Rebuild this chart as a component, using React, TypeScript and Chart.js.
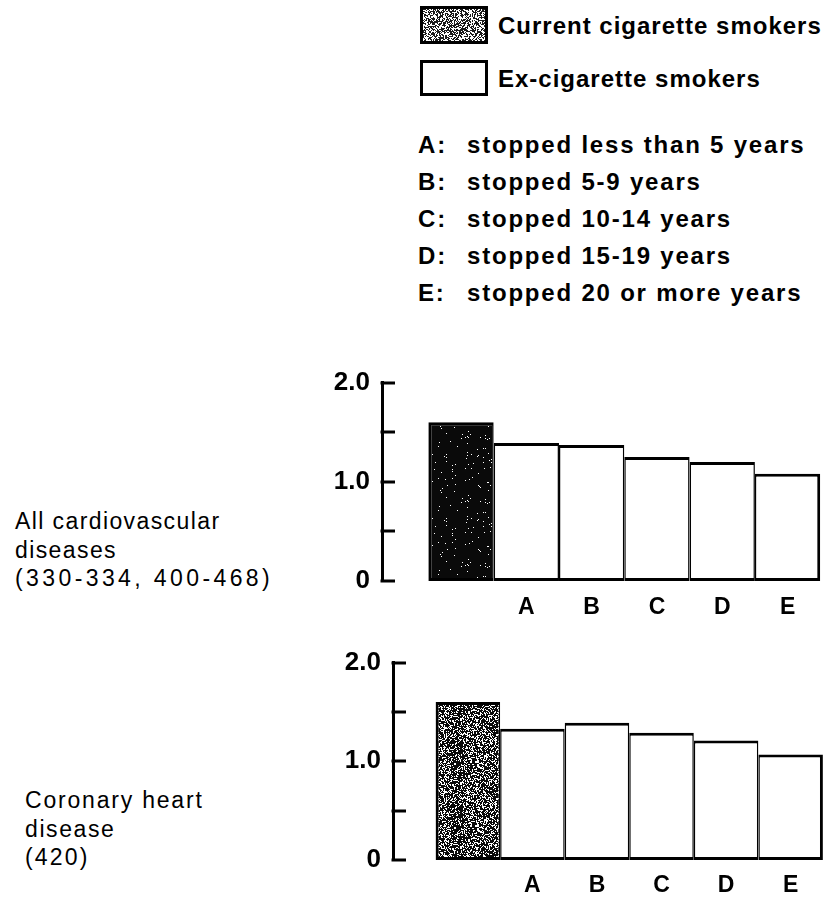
import React, { useEffect, useRef } from "react";
import { Chart, registerables } from "chart.js";

Chart.register(...registerables);

// ---- data ----
const CATEGORIES = ["", "A", "B", "C", "D", "E"];
const CVD_VALUES = [1.6, 1.39, 1.37, 1.25, 1.2, 1.08];
const CHD_VALUES = [1.6, 1.33, 1.39, 1.29, 1.21, 1.07];
const Y_TICKS = [0, 0.5, 1.0, 1.5, 2.0];
const Y_LABELS = ["0", "", "1.0", "", "2.0"];
const LEGEND_ITEMS = ["Current cigarette smokers", "Ex-cigarette smokers"];
const KEY_LETTERS = ["A:", "B:", "C:", "D:", "E:"];
const KEY_TEXTS = [
  "stopped less than 5 years",
  "stopped 5-9 years",
  "stopped 10-14 years",
  "stopped 15-19 years",
  "stopped 20 or more years",
];
const CVD_LABEL = ["All cardiovascular", "diseases", "(330-334, 400-468)"];
const CHD_LABEL = ["Coronary heart", "disease", "(420)"];

const FONT = "'Liberation Sans', Arial, Helvetica, sans-serif";

function hash(x: number, y: number, seed: number) {
  let h = Math.imul(x, 73856093) ^ Math.imul(y, 19349663) ^ Math.imul(seed, 83492791);
  h = Math.imul(h ^ (h >>> 13), 1274126177);
  h = h ^ (h >>> 16);
  return (h >>> 0) % 1000 / 1000;
}

function makeStippleCanvas(w: number, h: number, base: string, density: number, seed: number) {
  const c = document.createElement("canvas");
  c.width = w;
  c.height = h;
  const g = c.getContext("2d")!;
  g.fillStyle = base;
  g.fillRect(0, 0, w, h);
  g.fillStyle = "#ffffff";
  for (let y = 0; y < h; y++) {
    for (let x = 0; x < w; x++) {
      if (hash(x, y, seed) < density) g.fillRect(x, y, 1, 1);
    }
  }
  return c;
}

type Geom = {
  left: number;
  top: number;
  w: number;
  h: number;
  yAxisW: number;
  xAxisH: number;
  padTop: number;
  padRight: number;
  xMin: number;
  xMax: number;
  xPad: number;
  tickLen: number;
  density: number;
};

function BarPanel({ values, geom }: { values: number[]; geom: Geom }) {
  const ref = useRef<HTMLCanvasElement>(null);
  useEffect(() => {
    const canvas = ref.current!;
    const tile = makeStippleCanvas(64, 64, "#0a0a0a", geom.density, 7);
    const pattern = canvas.getContext("2d")!.createPattern(tile, "repeat")!;
    const last = values.length - 1;
    const inwardTicks = {
      id: "inwardTicks",
      afterDatasetsDraw(chart: any) {
        const ys = chart.scales.y;
        const ctx = chart.ctx;
        const left = chart.chartArea.left;
        ctx.save();
        ctx.strokeStyle = "#000";
        ctx.lineWidth = 3;
        Y_TICKS.forEach((v) => {
          const py = Math.round(ys.getPixelForValue(v));
          ctx.beginPath();
          ctx.moveTo(left - 1.5, py);
          ctx.lineTo(left + geom.tickLen, py);
          ctx.stroke();
        });
        ctx.restore();
      },
    };
    const chart = new Chart(canvas, {
      type: "bar",
      data: {
        datasets: [
          {
            data: values.map((v, i) => ({ x: i, y: v })),
            backgroundColor: values.map((_, i) => (i === 0 ? pattern : "#ffffff")),
            borderColor: "#000000",
            borderWidth: values.map((_, i) => ({
              top: 3,
              bottom: 3,
              left: i === 0 ? 3 : 1.5,
              right: i === last ? 3 : 1.5,
            })),
            borderSkipped: false,
            categoryPercentage: 1,
            barPercentage: 1,
            inflateAmount: 0,
          } as any,
        ],
      },
      options: {
        animation: false,
        responsive: false,
        maintainAspectRatio: false,
        layout: { padding: { top: geom.padTop, right: geom.padRight, left: 0, bottom: 0 } },
        plugins: { legend: { display: false }, tooltip: { enabled: false } },
        scales: {
          x: {
            type: "linear",
            offset: false,
            min: geom.xMin,
            max: geom.xMax,
            grid: { display: false, drawTicks: false, offset: false },
            border: { display: false },
            afterBuildTicks: (s: any) => {
              s.ticks = CATEGORIES.map((_, i) => ({ value: i }));
            },
            afterFit: (s: any) => {
              s.height = geom.xAxisH;
            },
            ticks: {
              autoSkip: false,
              maxRotation: 0,
              padding: geom.xPad,
              color: "#000",
              font: { family: FONT, size: 23, weight: "bold" },
              callback: (v: any) => CATEGORIES[v] ?? "",
            },
          },
          y: {
            min: 0,
            max: 2,
            afterBuildTicks: (s: any) => {
              s.ticks = Y_TICKS.map((v) => ({ value: v }));
            },
            afterFit: (s: any) => {
              s.width = geom.yAxisW;
            },
            grid: { display: false, drawTicks: false },
            border: { display: true, color: "#000", width: 3 },
            ticks: {
              padding: 12,
              color: "#000",
              font: { family: FONT, size: 26, weight: "bold" },
              callback: (v: any) => {
                const idx = Y_TICKS.indexOf(Number(v));
                return idx >= 0 ? Y_LABELS[idx] : "";
              },
            },
          },
        },
      } as any,
      plugins: [inwardTicks],
    });
    return () => chart.destroy();
  }, []);
  return (
    <canvas
      ref={ref}
      width={geom.w}
      height={geom.h}
      style={{ position: "absolute", left: geom.left, top: geom.top, width: geom.w, height: geom.h }}
    />
  );
}

function Swatch({ left, top, w, h, stipple }: { left: number; top: number; w: number; h: number; stipple: boolean }) {
  const ref = useRef<HTMLCanvasElement>(null);
  useEffect(() => {
    const c = ref.current!;
    const g = c.getContext("2d")!;
    g.fillStyle = "#fff";
    g.fillRect(0, 0, w, h);
    if (stipple) {
      const tile = makeStippleCanvas(w, h, "#1a1a1a", 0.5, 3);
      g.drawImage(tile, 0, 0);
    }
    g.strokeStyle = "#000";
    g.lineWidth = 3;
    g.strokeRect(1.5, 1.5, w - 3, h - 3);
  }, []);
  return <canvas ref={ref} width={w} height={h} style={{ position: "absolute", left, top, width: w, height: h }} />;
}

function TextLines({
  lines,
  left,
  firstCenter,
  step,
  style,
  spacings,
}: {
  lines: string[];
  left: number;
  firstCenter: number;
  step: number;
  style: any;
  spacings?: string[];
}) {
  return (
    <>
      {lines.map((t, i) => (
        <div
          key={i}
          style={{
            position: "absolute",
            left,
            top: firstCenter + i * step - 15,
            height: 30,
            lineHeight: "30px",
            whiteSpace: "nowrap",
            color: "#000",
            fontFamily: FONT,
            ...style,
            ...(spacings ? { letterSpacing: spacings[i] } : {}),
          }}
        >
          {t}
        </div>
      ))}
    </>
  );
}

const GEOM_CVD: Geom = {
  left: 300,
  top: 355,
  w: 539,
  h: 270,
  yAxisW: 82,
  xAxisH: 44,
  padTop: 18,
  padRight: 9,
  xMin: -1.21,
  xMax: 5.65,
  xPad: 13,
  tickLen: 13,
  density: 0.015,
};

const GEOM_CHD: Geom = {
  left: 300,
  top: 635,
  w: 539,
  h: 262,
  yAxisW: 93,
  xAxisH: 37,
  padTop: 20,
  padRight: 9,
  xMin: -1.16,
  xMax: 5.61,
  xPad: 12,
  tickLen: 13,
  density: 0.32,
};

export default function App() {
  const legendStyle = { fontSize: 24, fontWeight: "bold", letterSpacing: "1px" };
  const keyStyle = { fontSize: 24, fontWeight: "bold", letterSpacing: "1.8px" };
  const labelStyle = { fontSize: 23, letterSpacing: "1.4px" };
  return (
    <div style={{ position: "absolute", left: 0, top: 0, width: 839, height: 897, background: "#fff", overflow: "hidden" }}>
      <Swatch left={420} top={6} w={68} h={38} stipple={true} />
      <Swatch left={420} top={60} w={68} h={36} stipple={false} />
      <TextLines lines={[LEGEND_ITEMS[0]]} left={498} firstCenter={26} step={0} style={legendStyle} />
      <TextLines lines={[LEGEND_ITEMS[1]]} left={498} firstCenter={79} step={0} style={legendStyle} />
      <TextLines lines={KEY_LETTERS} left={418} firstCenter={145} step={37} style={keyStyle} />
      <TextLines lines={KEY_TEXTS} left={467} firstCenter={145} step={37} style={keyStyle} />
      <TextLines
        lines={CVD_LABEL}
        left={15}
        firstCenter={521}
        step={28.5}
        style={labelStyle}
        spacings={["1.4px", "1.4px", "3.4px"]}
      />
      <TextLines
        lines={CHD_LABEL}
        left={25}
        firstCenter={800}
        step={28.5}
        style={labelStyle}
        spacings={["1.8px", "1.6px", "2.2px"]}
      />
      <BarPanel values={CVD_VALUES} geom={GEOM_CVD} />
      <BarPanel values={CHD_VALUES} geom={GEOM_CHD} />
    </div>
  );
}
